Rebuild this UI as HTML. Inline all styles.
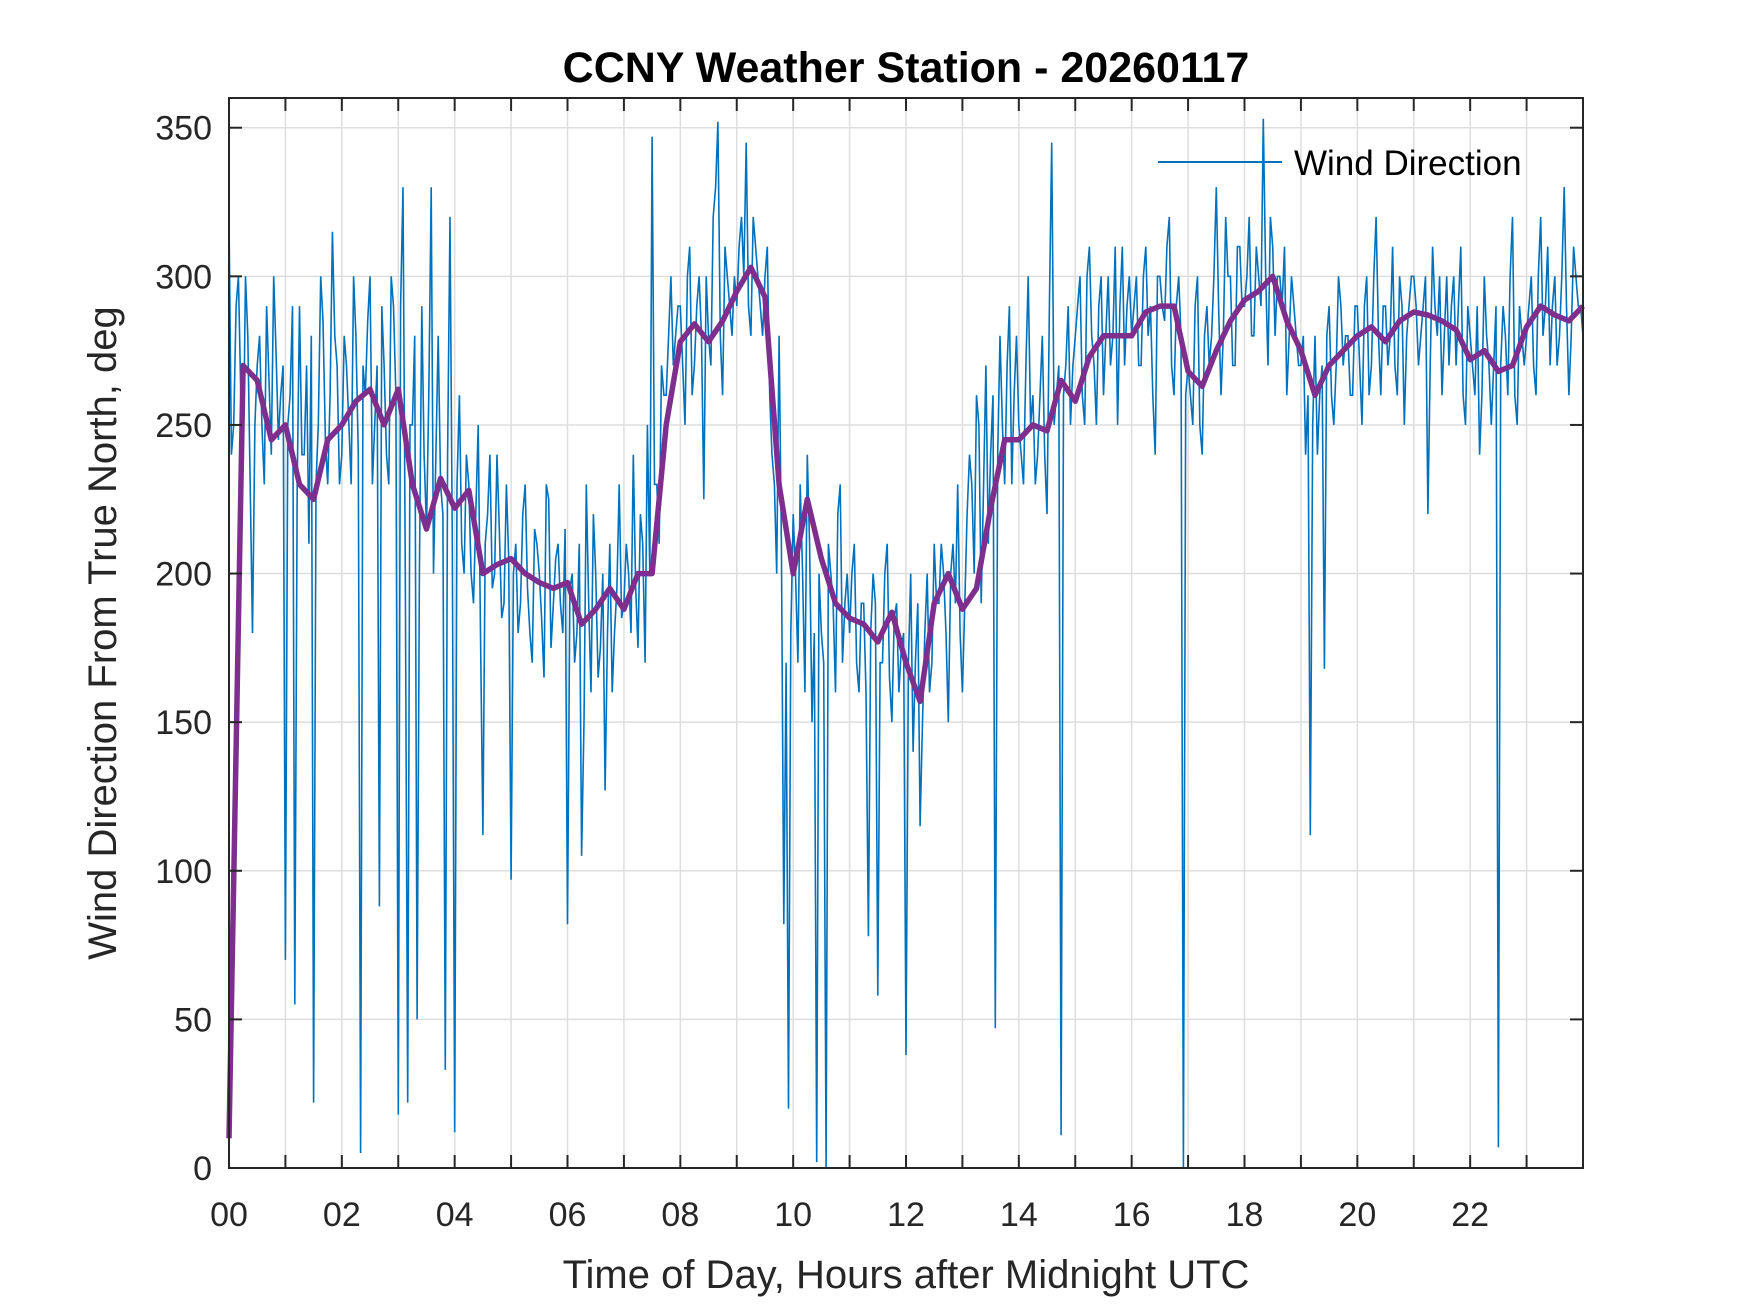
<!DOCTYPE html>
<html><head><meta charset="utf-8"><style>
body{margin:0;background:#fff}
svg{display:block}
text{font-family:"Liberation Sans",Arial,sans-serif;fill:#262626}
</style></head><body>
<svg id="chart" width="1750" height="1313" viewBox="0 0 1750 1313">
<rect width="1750" height="1313" fill="#fff"/>
<g id="grid"></g>
<g id="series"></g>
<g id="axes"></g>
<text x="906" y="82" text-anchor="middle" font-size="43" font-weight="bold" style="fill:#000">CCNY Weather Station - 20260117</text>
<text x="906" y="1288" text-anchor="middle" font-size="40">Time of Day, Hours after Midnight UTC</text>
<text transform="translate(116,633) rotate(-90)" text-anchor="middle" font-size="40">Wind Direction From True North, deg</text>
<g>
<line x1="1158" y1="162" x2="1282" y2="162" stroke="#0072BD" stroke-width="2"/>
<text x="1294" y="175" font-size="35" style="fill:#000">Wind Direction</text>
</g>
</svg>
<script>
const xTicks = ["00","02","04","06","08","10","12","14","16","18","20","22"];
const yTicks = [0,50,100,150,200,250,300,350];
// raw wind direction, 5-minute samples from 00:00
const windRaw = [
320,250,300,235,280,180,270,250,290,240,275,260,
70,260,55,290,240,210,22,250,285,230,315,270,
240,270,230,280,5,260,300,250,88,270,230,290,
18,330,22,250,50,290,215,330,240,230,33,320,
12,260,200,230,190,250,112,220,195,240,185,230,
97,210,190,230,180,215,200,165,225,190,210,180,
82,200,180,105,230,160,200,175,127,210,180,230,
190,200,240,175,210,250,347,230,270,260,300,280,
290,250,310,270,300,225,280,320,352,260,300,280,
290,320,345,280,310,290,300,260,230,280,82,20,
220,170,200,240,150,2,180,0,200,160,230,190,
180,210,160,190,78,200,58,170,210,150,190,175,
38,200,170,115,180,160,210,190,200,150,210,230,
160,220,230,260,190,270,240,47,280,230,290,260,
250,230,300,260,240,280,220,345,260,11,270,250,
280,300,250,310,270,290,260,300,280,250,310,290,
280,300,270,310,290,240,300,285,320,260,300,0,
270,250,300,240,290,280,330,260,320,300,270,310,
290,320,280,300,353,270,310,300,290,260,300,280,
270,240,112,280,260,168,290,250,300,270,280,260,
290,250,300,270,320,260,290,280,270,300,250,290,
300,270,290,220,310,280,260,300,290,270,310,250,
280,260,240,300,270,270,7,290,260,320,250,280,
280,300,260,320,290,270,300,280,330,260,310,290,
280];
// intermediate samples, offset 2.5 minutes
const windRawMid = [
240,290,260,300,230,250,280,230,265,300,245,270,
250,290,230,240,270,280,230,300,245,260,280,230,
280,250,300,240,270,285,230,270,290,240,300,260,
290,200,250,280,200,240,260,200,280,220,240,210,
230,210,240,200,220,180,210,240,200,215,190,205,
200,180,220,195,170,210,185,230,175,205,190,215,
195,170,210,150,190,220,165,200,180,160,195,185,
210,180,195,220,170,200,230,210,260,280,270,290,
270,300,260,290,280,300,270,330,280,310,290,300,
310,300,290,320,300,280,310,240,200,210,170,180,
200,230,160,210,180,200,170,210,190,220,170,200,
200,170,190,160,180,190,170,200,165,185,160,180,
170,140,190,150,200,170,190,210,180,200,190,180,
190,240,200,250,230,210,260,240,250,270,230,280,
240,270,250,230,260,240,290,250,270,260,290,270,
290,260,300,280,250,300,280,270,310,290,270,300,
290,270,300,280,260,300,290,310,270,290,280,260,
260,290,250,280,270,300,290,280,300,270,310,290,
300,280,310,290,300,320,280,300,310,280,290,270,
280,260,250,240,270,280,260,270,290,280,260,290,
270,290,260,300,280,290,270,310,260,290,280,300,
290,280,300,270,290,300,280,270,300,290,260,290,
270,290,260,280,250,290,270,280,300,260,290,270,
290,270,300,280,310,290,270,300,290,280,300,290];
// smoothed direction, 15-minute samples
const windAvg = [
10,270,265,245,250,230,225,245,250,258,262,250,
262,230,215,232,222,228,200,203,205,200,197,195,
197,183,188,195,188,200,200,250,278,284,278,285,
295,303,293,230,200,225,205,190,185,183,177,187,
170,157,190,200,188,195,222,245,245,250,248,265,
258,273,280,280,280,288,290,290,268,263,275,285,
292,295,300,285,275,260,270,275,280,283,278,285,
288,287,285,282,272,275,268,270,283,290,287,285,290];
const rawStep = 5/60, avgStep = 0.25;
const X0=229, X1=1583, Y0=1168, Y1=98;
const xs = h => X0 + (h/24)*(X1-X0);
const ys = v => Y0 - (v/360)*(Y0-Y1);
const NS="http://www.w3.org/2000/svg";
function mk(tag, attrs, parent){const e=document.createElementNS(NS,tag);for(const k in attrs)e.setAttribute(k,attrs[k]);parent.appendChild(e);return e;}
const grid=document.getElementById('grid'), axes=document.getElementById('axes'), series=document.getElementById('series');
for(let h=1;h<24;h++){
  const l=mk('line',{x1:xs(h),x2:xs(h),y1:Y1,y2:Y0,stroke:'#dedede','stroke-width':1.5},grid);
  
  
}
yTicks.forEach(v=>{ if(v===0) return;
  const l=mk('line',{x1:X0,x2:X1,y1:ys(v),y2:ys(v),stroke:'#dedede','stroke-width':1.5},grid);
  
  
});
let d='';
windRaw.forEach((v,i)=>{
  d+=(i?'L':'M')+xs(i*rawStep).toFixed(1)+','+ys(v).toFixed(1);
  if(i<windRawMid.length) d+='L'+xs((i+0.5)*rawStep).toFixed(1)+','+ys(windRawMid[i]).toFixed(1);
});
const raw=mk('path',{d:d,fill:'none',stroke:'#0072BD','stroke-width':1.6},series);


d='';
windAvg.forEach((v,i)=>{d+=(i?'L':'M')+xs(i*avgStep).toFixed(1)+','+ys(v).toFixed(1);});
const avg=mk('path',{d:d,fill:'none',stroke:'#7E2F8E','stroke-width':5.5,'stroke-linejoin':'round'},series);


const box=mk('rect',{x:X0,y:Y1,width:X1-X0,height:Y0-Y1,fill:'none',stroke:'#262626','stroke-width':2},axes);


for(let h=1;h<24;h++){
  const t=mk('line',{x1:xs(h),x2:xs(h),y1:Y0,y2:Y0-13,stroke:'#262626','stroke-width':2},axes);
  
  
  const t2=mk('line',{x1:xs(h),x2:xs(h),y1:Y1,y2:Y1+13,stroke:'#262626','stroke-width':2},axes);
  
  
}
xTicks.forEach((s,i)=>{
  const t=mk('text',{x:xs(i*2),y:1226,'text-anchor':'middle','font-size':34},axes);
  t.textContent=s;
  
  
});
yTicks.forEach(v=>{
  const t=mk('line',{x1:X0,x2:X0+13,y1:ys(v),y2:ys(v),stroke:'#262626','stroke-width':2},axes);
  
  
  const t2=mk('line',{x1:X1,x2:X1-13,y1:ys(v),y2:ys(v),stroke:'#262626','stroke-width':2},axes);
  
  
  const l=mk('text',{x:212,y:ys(v)+12,'text-anchor':'end','font-size':34},axes);
  l.textContent=v;
  
  
});
</script>
</body></html>
